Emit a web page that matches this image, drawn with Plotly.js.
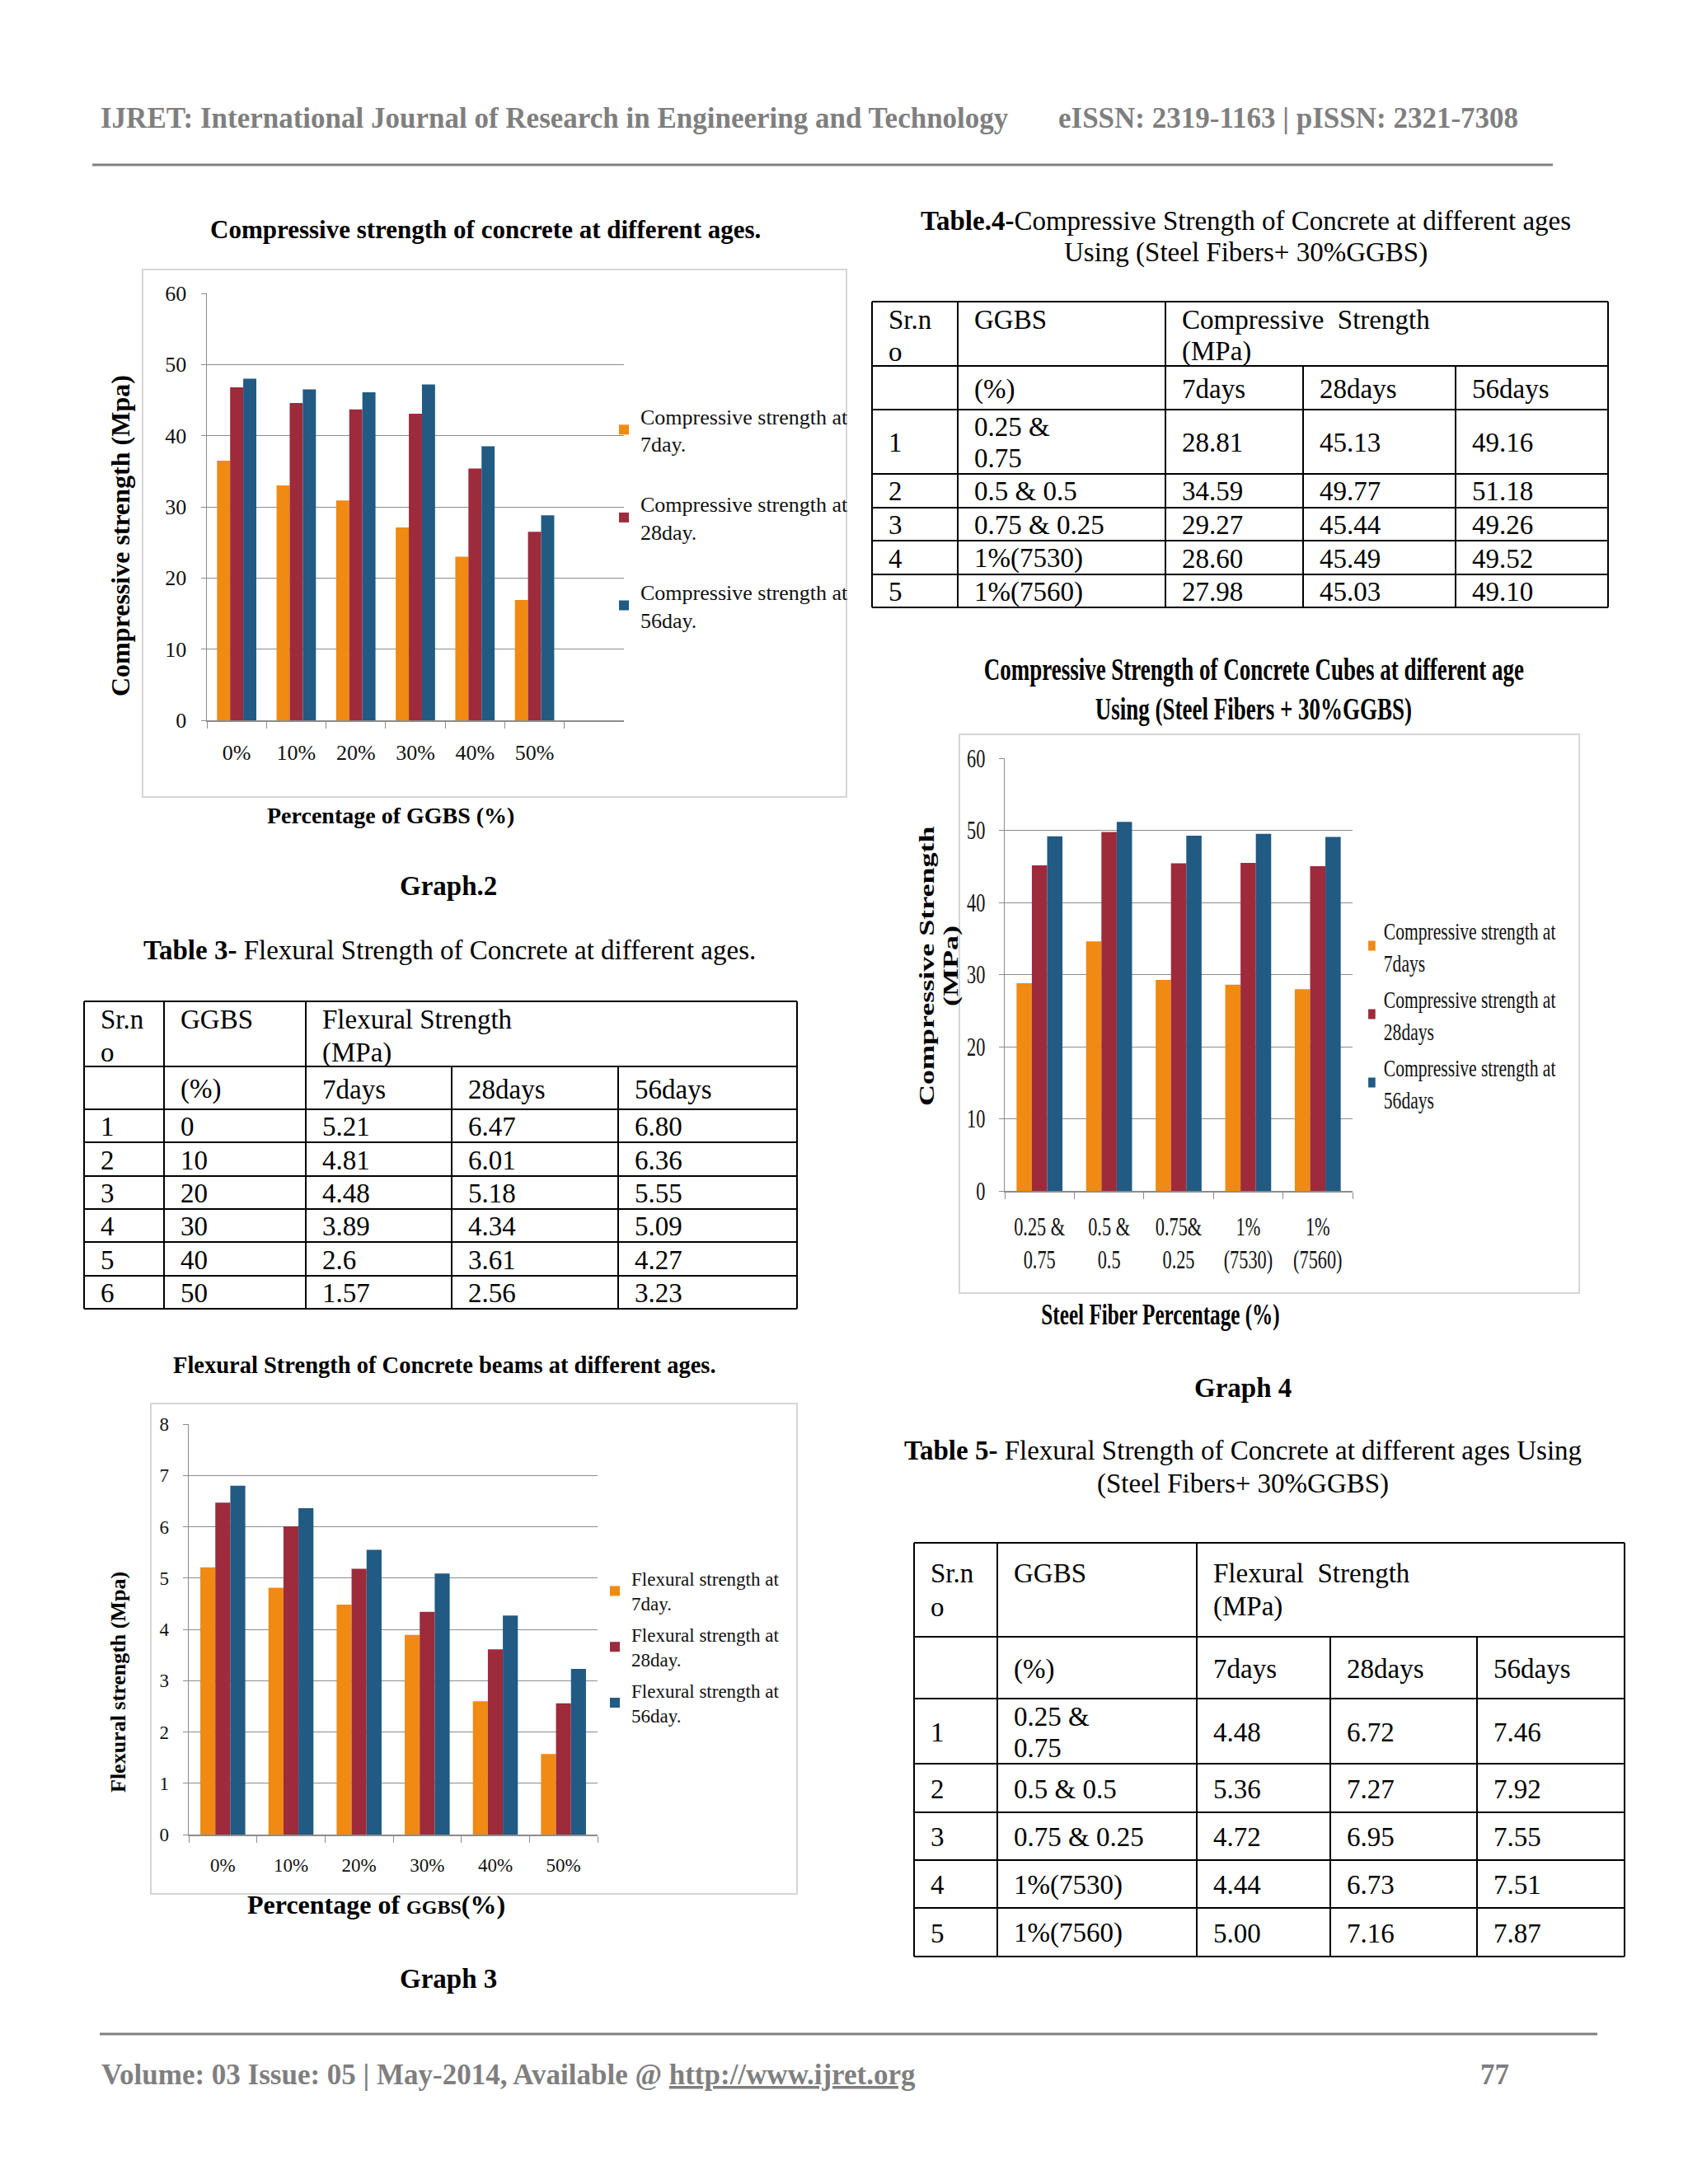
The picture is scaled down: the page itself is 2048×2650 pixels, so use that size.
<!DOCTYPE html>
<html><head><meta charset="utf-8">
<script src="https://cdn.plot.ly/plotly-3.0.1.min.js"></script>
<style>html,body{margin:0;padding:0;background:#fff;}#chart{width:2048px;height:2650px;}</style>
</head><body><div id="chart"></div>
<script>
// ================= DATA =================
// Graph.2
const ggbsCategories = ["0%", "10%", "20%", "30%", "40%", "50%"];
const graph2Comp7  = [36.5, 33.0, 30.9, 27.1, 23.0, 16.9];
const graph2Comp28 = [46.8, 44.6, 43.7, 43.1, 35.4, 26.5];
const graph2Comp56 = [48.0, 46.5, 46.1, 47.2, 38.5, 28.8];
const graph2Names = ["Compressive strength at<br>7day.", "Compressive strength at<br>28day.", "Compressive strength at<br>56day."];

// Table 3 / Graph 3
const table3SrNo  = ["1", "2", "3", "4", "5", "6"];
const table3Ggbs  = ["0", "10", "20", "30", "40", "50"];
const table3Flex7  = ["5.21", "4.81", "4.48", "3.89", "2.6", "1.57"];
const table3Flex28 = ["6.47", "6.01", "5.18", "4.34", "3.61", "2.56"];
const table3Flex56 = ["6.80", "6.36", "5.55", "5.09", "4.27", "3.23"];
const graph3Names = ["Flexural strength at<br>7day.", "Flexural strength at<br>28day.", "Flexural strength at<br>56day."];

// Table 4 / Graph 4
const fiberCategories = ["0.25 &<br>0.75", "0.5 &<br>0.5", "0.75&<br>0.25", "1%<br>(7530)", "1%<br>(7560)"];
const table4SrNo  = ["1", "2", "3", "4", "5"];
const table4Fiber = [["0.25 &", "0.75"], ["0.5 & 0.5"], ["0.75 & 0.25"], ["1%(7530)"], ["1%(7560)"]];
const table4Comp7  = ["28.81", "34.59", "29.27", "28.60", "27.98"];
const table4Comp28 = ["45.13", "49.77", "45.44", "45.49", "45.03"];
const table4Comp56 = ["49.16", "51.18", "49.26", "49.52", "49.10"];
const graph4Names = ["Compressive strength at<br>7days", "Compressive strength at<br>28days", "Compressive strength at<br>56days"];

// Table 5
const table5SrNo  = ["1", "2", "3", "4", "5"];
const table5Fiber = [["0.25 &", "0.75"], ["0.5 & 0.5"], ["0.75 & 0.25"], ["1%(7530)"], ["1%(7560)"]];
const table5Flex7  = ["4.48", "5.36", "4.72", "4.44", "5.00"];
const table5Flex28 = ["6.72", "7.27", "6.95", "6.73", "7.16"];
const table5Flex56 = ["7.46", "7.92", "7.55", "7.51", "7.87"];

// ================= STYLE / HELPERS =================
const W = 2048, H = 2650;
const SERIF = "Liberation Serif, Times New Roman, serif";
const ORANGE = "#F08A12", RED = "#9D2B3B", BLUE = "#215A82";
const GRID = "#8c8c8c", GREY = "#7f7f7f";
const SQ = 0.72;               // horizontal squeeze of the Graph 4 picture
const px = x => x / W, py = y => 1 - y / H;
const annotations = [], shapes = [], squeezedAnn = [];

function txt(x, y, text, o = {}) {
  if (o.squeeze) squeezedAnn.push(annotations.length);
  annotations.push({
    xref: "paper", yref: "paper", x: px(x), y: py(y), text: text, showarrow: false,
    xanchor: o.xa || "left", yanchor: o.ya || "middle", textangle: o.angle || 0,
    font: {family: SERIF, size: o.size || 33, color: o.color || "#000"}
  });
}
function hline(x0, x1, y, color, w) {
  shapes.push({type: "line", xref: "paper", yref: "paper", x0: px(x0), x1: px(x1), y0: py(y), y1: py(y), line: {color: color, width: w}});
}
function vline(x, y0, y1, color, w) {
  shapes.push({type: "line", xref: "paper", yref: "paper", x0: px(x), x1: px(x), y0: py(y0), y1: py(y1), line: {color: color, width: w}});
}
function frame(x0, y0, x1, y1) {
  shapes.push({type: "rect", xref: "paper", yref: "paper", x0: px(x0), x1: px(x1), y0: py(y1), y1: py(y0), line: {color: "#d6d6d6", width: 2}, layer: "below"});
}

function drawTable(cols, rows, head, srNo, ggbs, v1, v2, v3) {
  const pad = 18;
  rows.forEach(r => hline(cols[0], cols[5], r, "#000", 2));
  [0, 1, 2, 5].forEach(i => vline(cols[i], rows[0], rows[rows.length - 1], "#000", 2));
  [3, 4].forEach(i => vline(cols[i], rows[1], rows[rows.length - 1], "#000", 2));
  txt(cols[0] + pad, head.l1, "Sr.n"); txt(cols[0] + pad, head.l2, "o");
  txt(cols[1] + pad, head.l1, "GGBS");
  txt(cols[2] + pad, head.l1, head.title1); txt(cols[2] + pad, head.l2, "(MPa)");
  const c2 = (rows[1] + rows[2]) / 2 + 1.5;
  txt(cols[1] + pad, c2, "(%)");
  txt(cols[2] + pad, c2, "7days"); txt(cols[3] + pad, c2, "28days"); txt(cols[4] + pad, c2, "56days");
  for (let i = 0; i < srNo.length; i++) {
    const c = (rows[i + 2] + rows[i + 3]) / 2 + 1;
    txt(cols[0] + pad, c, srNo[i]);
    const g = Array.isArray(ggbs[i]) ? ggbs[i] : [ggbs[i]];
    if (g.length === 2) { txt(cols[1] + pad, c - 19, g[0]); txt(cols[1] + pad, c + 19, g[1]); }
    else txt(cols[1] + pad, c, g[0]);
    txt(cols[2] + pad, c, v1[i]); txt(cols[3] + pad, c, v2[i]); txt(cols[4] + pad, c, v3[i]);
  }
}

// ================= PAGE TEXT =================
txt(120, 143, "<b>IJRET: International Journal of Research in Engineering and Technology</b>", {color: GREY, size: 35});
txt(1282, 143, "<b>eISSN: 2319-1163 | pISSN: 2321-7308</b>", {color: GREY, size: 35});
hline(112, 1884, 200, "#808080", 3);
hline(121, 1938, 2468, "#808080", 3);
txt(121, 2517, "<b>Volume: 03 Issue: 05 | May-2014, Available @ <u>http://www.ijret.org</u></b>", {color: GREY, size: 35});
txt(1794, 2517, "<b>77</b>", {color: GREY, size: 35});

// Graph 2 texts
frame(173, 327, 1027, 967);
txt(589, 278, "<b>Compressive strength of concrete at different ages.</b>", {xa: "center", size: 31});
txt(146, 650, "<b>Compressive strength (Mpa)</b>", {xa: "center", angle: -90, size: 32});
txt(474, 989, "<b>Percentage of GGBS (%)</b>", {xa: "center", size: 28});
txt(544, 1075, "<b>Graph.2</b>", {xa: "center", size: 33});

// Table 3
txt(545, 1153, "<b>Table 3-</b> Flexural Strength of Concrete at different ages.", {xa: "center", size: 33});
drawTable([102, 199, 371, 548, 750, 967], [1215, 1294, 1346, 1386, 1427, 1467, 1507, 1548, 1588],
  {l1: 1237, l2: 1277, title1: "Flexural Strength"}, table3SrNo, table3Ggbs, table3Flex7, table3Flex28, table3Flex56);

// Graph 3 texts
frame(183, 1703, 967, 2298);
txt(539, 1657, "<b>Flexural Strength of Concrete beams at different ages.</b>", {xa: "center", size: 28.5});
txt(143, 2041, "<b>Flexural strength (Mpa)</b>", {xa: "center", angle: -90, size: 26});
txt(456, 2311, "<b>Percentage of <span style='font-size:24px'>GGBS</span>(%)</b>", {xa: "center", size: 32});
txt(544, 2401, "<b>Graph 3</b>", {xa: "center", size: 33});

// Table 4
txt(1511, 268, "<b>Table.4-</b>Compressive Strength of Concrete at different ages", {xa: "center", size: 33});
txt(1511, 307, "Using (Steel Fibers+ 30%GGBS)", {xa: "center", size: 33});
drawTable([1058, 1162, 1414, 1581, 1766, 1951], [366, 444, 497, 575, 616, 656, 697, 737],
  {l1: 388, l2: 427, title1: "Compressive\u00a0 Strength"}, table4SrNo, table4Fiber, table4Comp7, table4Comp28, table4Comp56);

// Graph 4 texts (condensed picture)
frame(1164, 891, 1916, 1569);
txt(1521, 813, "<b>Compressive Strength of Concrete Cubes at different age</b>", {xa: "center", size: 37.5, squeeze: true});
txt(1521, 861, "<b>Using (Steel Fibers + 30%GGBS)</b>", {xa: "center", size: 37.5, squeeze: true});
txt(1124, 1172, "<b>Compressive Strength</b>", {xa: "center", angle: -90, size: 36, squeeze: true});
txt(1153, 1172, "<b>(MPa)</b>", {xa: "center", angle: -90, size: 36, squeeze: true});
txt(1408, 1595, "<b>Steel Fiber Percentage (%)</b>", {xa: "center", size: 35, squeeze: true});
txt(1508, 1684, "<b>Graph 4</b>", {xa: "center", size: 33});

// Table 5
txt(1508, 1760, "<b>Table 5-</b> Flexural Strength of Concrete at different ages Using", {xa: "center", size: 33});
txt(1508, 1800, "(Steel Fibers+ 30%GGBS)", {xa: "center", size: 33});
drawTable([1109, 1210, 1452, 1614, 1792, 1971], [1872, 1986, 2061, 2140, 2199, 2257, 2315, 2374],
  {l1: 1909, l2: 1950, title1: "Flexural\u00a0 Strength"}, table5SrNo, table5Fiber, table5Flex7, table5Flex28, table5Flex56);

// ================= TRACES =================
const colors = [ORANGE, RED, BLUE];
const traces = [];
[graph2Comp7, graph2Comp28, graph2Comp56].forEach((vals, i) => traces.push({
  type: "bar", x: ggbsCategories, y: vals, name: graph2Names[i], marker: {color: colors[i], line: {width: 0}},
  xaxis: "x", yaxis: "y", legend: "legend", legendgroup: "g2_" + i, hoverinfo: "skip"
}));
[table4Comp7, table4Comp28, table4Comp56].forEach((vals, i) => traces.push({
  type: "bar", x: fiberCategories, y: vals.map(Number), name: graph4Names[i], marker: {color: colors[i], line: {width: 0}},
  xaxis: "x2", yaxis: "y2", legend: "legend2", legendgroup: "g4_" + i, hoverinfo: "skip"
}));
[table3Flex7, table3Flex28, table3Flex56].forEach((vals, i) => traces.push({
  type: "bar", x: ggbsCategories, y: vals.map(Number), name: graph3Names[i], marker: {color: colors[i], line: {width: 0}},
  xaxis: "x3", yaxis: "y3", legend: "legend3", legendgroup: "g3_" + i, hoverinfo: "skip"
}));

function xAx(d, anchor, cats, range, fs, standoff) {
  return {domain: d, anchor: anchor, type: "category", categoryorder: "array", categoryarray: cats, range: range,
    tickson: "boundaries", ticks: "outside", ticklen: 8, tickcolor: GRID, showline: true, linecolor: GRID, linewidth: 1.5,
    showgrid: false, zeroline: false, fixedrange: true, ticklabelstandoff: standoff, tickangle: 0,
    tickfont: {family: SERIF, size: fs, color: "#111"}};
}
function yAx(d, anchor, range, dtick, fs, standoff) {
  return {domain: d, anchor: anchor, range: range, dtick: dtick, ticks: "outside", ticklen: 6, tickcolor: GRID,
    showline: true, linecolor: GRID, linewidth: 1.5, showgrid: true, gridcolor: GRID, gridwidth: 1, zeroline: false,
    fixedrange: true, ticklabelstandoff: standoff, tickfont: {family: SERIF, size: fs, color: "#111"}};
}
function leg(x, y, fs, gap) {
  return {x: px(x), y: py(y), xanchor: "left", yanchor: "top", bgcolor: "rgba(0,0,0,0)", borderwidth: 0,
    font: {family: SERIF, size: fs, color: "#111"}, tracegroupgap: gap, itemclick: false, itemdoubleclick: false};
}

const LEG2_X = 1650;
const layout = {
  width: W, height: H, margin: {l: 0, r: 0, t: 0, b: 0}, paper_bgcolor: "#fff", plot_bgcolor: "#fff",
  barmode: "group", bargap: 0.34, bargroupgap: 0, showlegend: true,
  xaxis:  xAx([px(251), px(757)], "y", ggbsCategories, [-0.5, 6.5], 26, 15),
  yaxis:  yAx([py(874), py(356)], "x", [0, 60], 10, 26, 12),
  xaxis2: xAx([px(1219), px(1641)], "y2", fiberCategories, [-0.5, 4.5], 31, 15),
  yaxis2: yAx([py(1445), py(920)], "x2", [0, 60], 10, 31, 10),
  xaxis3: xAx([px(229), px(725)], "y3", ggbsCategories, [-0.5, 5.5], 23, 16),
  yaxis3: yAx([py(2226), py(1728)], "x3", [0, 8], 1, 23, 12),
  legend:  leg(737, 481, 26, 36),
  legend2: leg(LEG2_X, 1102, 30, 2),
  legend3: leg(726, 1894, 23, 5),
  annotations: annotations, shapes: shapes
};

// horizontal squeeze of an SVG element about a page x position (mode: center | left | right | number)
function squeeze(el, s, mode) {
  if (!el || !el.parentNode) return;
  const r = el.getBoundingClientRect();
  let ox = typeof mode === "number" ? mode : mode === "left" ? r.left : mode === "right" ? r.right : r.left + r.width / 2;
  const m = el.parentNode.getScreenCTM();
  if (!m) return;
  const lx = (ox - m.e) / m.a;
  const prev = el.getAttribute("transform") || "";
  el.setAttribute("transform", "translate(" + lx + ",0) scale(" + s + ",1) translate(" + (-lx) + ",0) " + prev);
}

Plotly.newPlot("chart", traces, layout, {staticPlot: true, displayModeBar: false}).then(gd => {
  squeezedAnn.forEach(i => squeeze(gd.querySelector('g.annotation[data-index="' + i + '"]'), SQ, "center"));
  gd.querySelectorAll("g.x2tick").forEach(el => squeeze(el, SQ, "center"));
  gd.querySelectorAll("g.y2tick").forEach(el => squeeze(el, SQ, "right"));
  squeeze(gd.querySelector("g.legend2"), SQ, LEG2_X);
});
</script>
</body></html>
